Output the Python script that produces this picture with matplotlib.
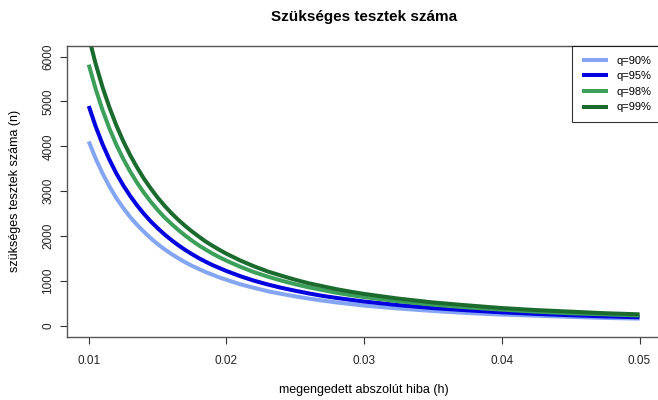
import matplotlib
matplotlib.use("Agg")
import matplotlib.pyplot as plt

plt.rcParams['font.family'] = ['Liberation Sans', 'DejaVu Sans']

# megengedett abszolut hiba (h) - leolvasott pontok
h = [0.0100, 0.0105, 0.0110, 0.0115, 0.0120, 0.0125, 0.0130, 0.0135,
     0.0140, 0.0145, 0.0150, 0.0155, 0.0160, 0.0165, 0.0170, 0.0175,
     0.0180, 0.0185, 0.0190, 0.0195, 0.0200, 0.021, 0.022, 0.023,
     0.024, 0.025, 0.026, 0.027, 0.028, 0.029, 0.030, 0.0325, 0.035,
     0.0375, 0.040, 0.0425, 0.045, 0.0475, 0.050]

# szukseges tesztek szama, q szerint
n_90 = [4110, 3730, 3400, 3110, 2850, 2630, 2430, 2255,
        2100, 1955, 1825, 1710, 1605, 1510, 1420, 1340,
        1270, 1200, 1140, 1080, 1030, 930, 850, 775,
        715, 660, 610, 565, 525, 490, 455, 390, 335,
        290, 255, 230, 205, 180, 165]
n_95 = [4900, 4445, 4050, 3705, 3400, 3135, 2900, 2690,
        2500, 2330, 2180, 2040, 1915, 1800, 1695, 1600,
        1510, 1430, 1355, 1290, 1225, 1110, 1010, 925,
        850, 785, 725, 670, 625, 585, 545, 465, 400,
        350, 305, 270, 240, 215, 195]
n_98 = [5820, 5280, 4810, 4400, 4040, 3725, 3445, 3195,
        2970, 2770, 2585, 2420, 2275, 2140, 2015, 1900,
        1795, 1700, 1610, 1530, 1455, 1320, 1200, 1100,
        1010, 930, 860, 800, 740, 690, 645, 550, 475,
        415, 365, 320, 285, 260, 235]
n_99 = [6440, 5840, 5320, 4870, 4470, 4120, 3810, 3535,
        3285, 3065, 2860, 2680, 2515, 2365, 2230, 2105,
        1990, 1880, 1785, 1695, 1610, 1460, 1330, 1215,
        1120, 1030, 950, 885, 820, 765, 715, 610, 525,
        460, 400, 355, 320, 285, 260]

labels = ["q=90%", "q=95%", "q=98%", "q=99%"]
colors = ["#84a4f4", "#0000e0", "#3da05a", "#1b6b2f"]

x_ticks = [0.01, 0.02, 0.03, 0.04, 0.05]
y_ticks = [0, 1000, 2000, 3000, 4000, 5000, 6000]

fig = plt.figure(figsize=(6.58, 4), dpi=100)
ax = fig.add_axes([0.1014, 0.158, 0.904, 0.7275])

for n, lab, c in zip([n_90, n_95, n_98, n_99], labels, colors):
    ax.plot(h, n, color=c, lw=2.9, label=lab, solid_capstyle="butt")

ax.set_xlim(0.0084, 0.0516)
ax.set_ylim(-240, 6240)
ax.set_xticks(x_ticks)
ax.set_xticklabels([str(t) for t in x_ticks])
ax.set_yticks(y_ticks)
ax.set_yticklabels([str(t) for t in y_ticks], rotation=90, va="center")
ax.tick_params(direction="out", length=5, width=0.8, colors="#333333",
               labelsize=8.5, labelcolor="#222222")
ax.tick_params(axis="x", pad=8)
ax.tick_params(axis="y", pad=4)
for s in ax.spines.values():
    s.set_color("#555555")
    s.set_linewidth(1)

ax.set_title("Szükséges tesztek száma", fontsize=11, fontweight="bold", pad=18)
ax.set_xlabel("megengedett abszolút hiba (h)", fontsize=9, labelpad=12)
ax.set_ylabel("szükséges tesztek száma (n)", fontsize=9, labelpad=15)

leg = ax.legend(loc="upper right", bbox_to_anchor=(1, 1), borderaxespad=0,
                fancybox=False, edgecolor="black", fontsize=8,
                handlelength=2.3, labelspacing=0.5, borderpad=0.9,
                handletextpad=0.8)
leg.get_frame().set_linewidth(0.8)

fig.savefig("out.png", dpi=100)
